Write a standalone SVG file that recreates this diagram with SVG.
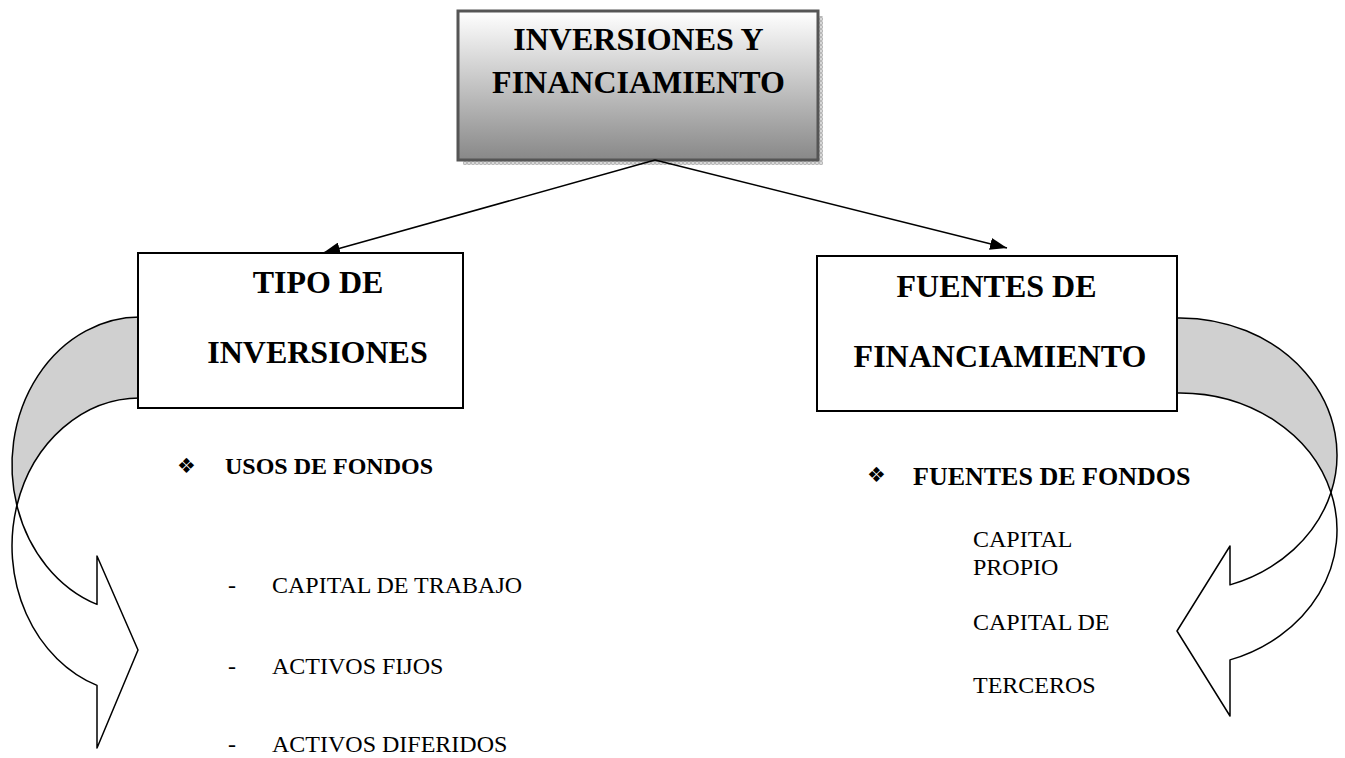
<svg xmlns="http://www.w3.org/2000/svg" width="1345" height="758" viewBox="0 0 1345 758">
<style>
.box{fill:#fff;stroke:#000;stroke-width:2}
.title{font-family:"Liberation Serif","Times New Roman",serif;font-weight:bold;font-size:32px;fill:#000;text-anchor:middle}
.sub{font-family:"Liberation Serif","Times New Roman",serif;font-weight:bold;font-size:24px;fill:#000}
.item{font-family:"Liberation Serif","Times New Roman",serif;font-size:24px;fill:#000}
.bul{font-family:"DejaVu Sans",sans-serif;font-size:21px;fill:#000}
.band{stroke:#000;stroke-width:1.5;stroke-linejoin:round}
.conn{stroke:#000;stroke-width:1.5;fill:none}
</style>
<defs>
<linearGradient id="g" x1="0" y1="0" x2="0" y2="1">
<stop offset="0" stop-color="#ffffff"/>
<stop offset="1" stop-color="#888888"/>
</linearGradient>
<pattern id="sh" width="4" height="4" patternUnits="userSpaceOnUse">
<rect width="4" height="4" fill="#d8d8d8"/>
<rect width="2" height="2" fill="#b8b8b8"/>
<rect x="2" y="2" width="2" height="2" fill="#b8b8b8"/>
</pattern>
<marker id="ah" markerWidth="18" markerHeight="12" refX="17" refY="6" orient="auto" markerUnits="userSpaceOnUse">
<path d="M0,0 L17,6 L0,12 Z" fill="#000"/>
</marker>
</defs>

<g id="curved-left">
<path class="band" fill="#d0d0d0" d="M148,317 L140,317 A128,148 0 0 0 16.9,505.5 A128,148 0 0 1 140,398 L148,398 Z"/>
<path class="band" fill="#fff" d="M16.9,505.5 A128,148 0 0 0 97,604.4 L97,556 L138,650 L97,748 L97,685.4 A128,148 0 0 1 16.9,505.5 Z"/>
</g>
<g id="curved-right">
<path class="band" fill="#d0d0d0" d="M1170,318 L1180,318 A157,137 0 0 1 1331,492.5 A157,137 0 0 0 1180,393 L1170,393 Z"/>
<path class="band" fill="#fff" d="M1331,492.5 A157,137 0 0 1 1230,584.9 L1230,546 L1177,631 L1230,716 L1230,659.9 A157,137 0 0 0 1331,492.5 Z"/>
</g>

<g id="top">
<rect x="463" y="16" width="360" height="149" fill="url(#sh)"/>
<rect x="458" y="11" width="360" height="149" fill="url(#g)" stroke="#555" stroke-width="3"/>
<text class="title" x="638.5" y="50">INVERSIONES Y</text>
<text class="title" x="638.5" y="93">FINANCIAMIENTO</text>
</g>

<g id="connectors">
<line class="conn" x1="655" y1="160" x2="323" y2="253" marker-end="url(#ah)"/>
<line class="conn" x1="655" y1="160" x2="1007" y2="248" marker-end="url(#ah)"/>
</g>

<g id="tipo">
<rect class="box" x="138" y="253" width="325" height="155"/>
<text class="title" x="318" y="293">TIPO DE</text>
<text class="title" x="317.5" y="363">INVERSIONES</text>
</g>

<g id="fuentes">
<rect class="box" x="817" y="256" width="360" height="155"/>
<text class="title" x="996.5" y="297">FUENTES DE</text>
<text class="title" x="1000" y="367">FINANCIAMIENTO</text>
</g>

<g id="usos">
<text class="bul" x="177" y="473">❖</text>
<text class="sub" x="225" y="474">USOS DE FONDOS</text>
<text class="item" x="228" y="593">-</text>
<text class="item" x="272" y="593">CAPITAL DE TRABAJO</text>
<text class="item" x="228" y="674">-</text>
<text class="item" x="272" y="674">ACTIVOS FIJOS</text>
<text class="item" x="228" y="752">-</text>
<text class="item" x="272" y="752">ACTIVOS DIFERIDOS</text>
</g>

<g id="fondos">
<text class="bul" x="867" y="482">❖</text>
<text class="sub" x="913" y="485" style="font-size:26px">FUENTES DE FONDOS</text>
<text class="item" x="973" y="547">CAPITAL</text>
<text class="item" x="973" y="575">PROPIO</text>
<text class="item" x="973" y="630">CAPITAL DE</text>
<text class="item" x="973" y="693">TERCEROS</text>
</g>
</svg>
